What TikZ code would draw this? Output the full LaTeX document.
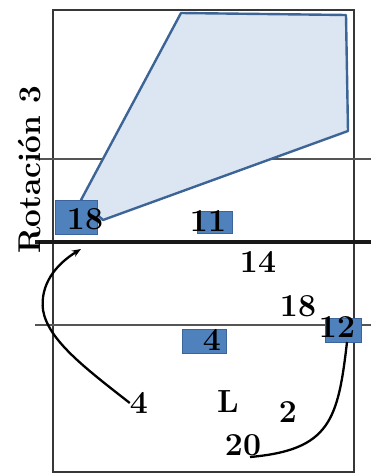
\documentclass[tikz,border=0pt]{standalone}
\usetikzlibrary{arrows.meta}
\definecolor{zonefill}{RGB}{220,230,242}
\definecolor{zoneedge}{RGB}{60,100,150}
\definecolor{boxfill}{RGB}{79,129,189}
\definecolor{boxedge}{RGB}{58,100,155}
\definecolor{courtline}{RGB}{55,55,55}
\begin{document}
\begin{tikzpicture}[x=1pt,y=-1pt,
  num/.style={font=\fontsize{32}{32}\selectfont\bfseries, inner sep=0pt},
  pbox/.style={draw=boxedge, fill=boxfill, line width=1pt, inner sep=0pt},
  court/.style={draw=courtline, line width=2.8pt},
  thinline/.style={draw=courtline!85, line width=1.9pt},
  centerline/.style={draw=black!90, line width=3.6pt},
  zone/.style={draw=zoneedge, fill=zonefill, line width=2.4pt, line join=round},
  move/.style={draw=black, line width=2.3pt}]
\useasboundingbox (0,0) rectangle (371,474);
% court
\draw[court] (53,10) rectangle (354,472);
\draw[thinline] (35,159) -- (371,159);
\draw[thinline] (35,325) -- (371,325);
\draw[centerline] (35,242) -- (371,242);
% zone
\draw[zone] (181,13) -- (346,15) -- (348,131) -- (103,220) -- (81,200) -- cycle;
% player boxes
\node[pbox, minimum width=42pt, minimum height=34pt] (b18) at (76,217) {};
\node[pbox, minimum width=35pt, minimum height=22pt] (b11) at (214.5,222) {};
\node[pbox, minimum width=44pt, minimum height=24pt] (b4) at (204,341) {};
\node[pbox, minimum width=36pt, minimum height=24pt] (b12) at (343,330) {};
% label
\node[rotate=90, inner sep=0pt, font=\fontsize{31.5}{31.5}\selectfont\bfseries] (rot) at (30,170) {Rotación 3};
% numbers
\node[num] (t18a) at (85,219) {18};
\node[num] (t11) at (208,221) {11};
\node[num] (t14) at (258,262) {14};
\node[num] (t18b) at (298,306) {18};
\node[num] (t12) at (337,327) {12};
\node[num] (t4a) at (212,340) {4};
\node[num] (t4b) at (139,403) {4};
\node[num] (tL) at (228,402) {L};
\node[num] (t2) at (288,412) {2};
\node[num] (t20) at (243,445) {20};
% movements
\coordinate (a1) at (81,249);
\coordinate (c12) at (347,342);
\coordinate (e20) at (250,457);
\draw[move, -{Stealth[length=9pt,width=7pt]}] (t4b.west) .. controls (85,368) and (48,340) .. (43,310)
   .. controls (40,285) and (55,265) .. (a1);
\draw[move] (c12) .. controls (338,420) and (330,450) .. (e20);
\end{tikzpicture}
\end{document}
